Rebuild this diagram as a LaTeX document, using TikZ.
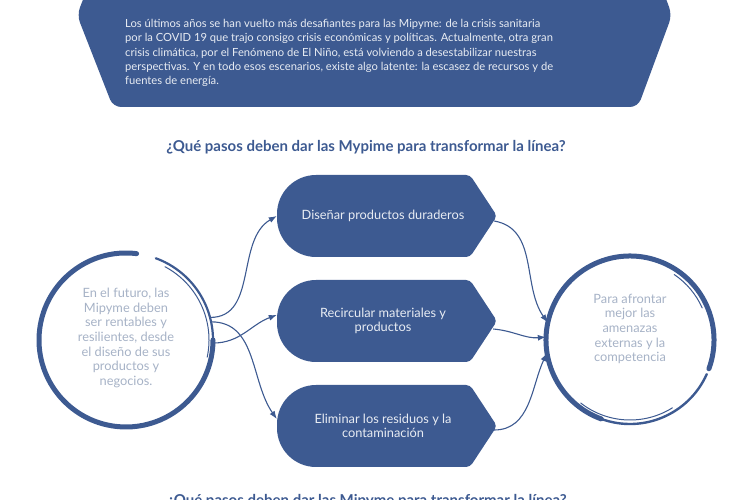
\documentclass[tikz,border=0pt]{standalone}
\usepackage{fontspec}
\setmainfont{Lato}
\usetikzlibrary{positioning,arrows.meta,calc}
\definecolor{mipazul}{RGB}{61,90,145}
\definecolor{mipclaro}{RGB}{232,236,243}
\definecolor{mipgris}{RGB}{166,178,198}

\tikzset{
  paso/.style={minimum width=220pt,minimum height=82pt,inner sep=0pt,
    text=mipclaro,align=center,font=\fontsize{12.8}{14.5}\selectfont,
    path picture={
      \fill[mipazul] (path picture bounding box.east)
        [rounded corners=4pt] -- ([xshift=-27pt]path picture bounding box.north east)
        [rounded corners=39pt] -- (path picture bounding box.north west)
        -- (path picture bounding box.south west)
        [rounded corners=4pt] -- ([xshift=-27pt]path picture bounding box.south east)
        -- cycle;}},
  circulo/.style={circle,inner sep=0pt},
  circtexto/.style={inner sep=0pt,align=center,text=mipgris,
    font=\fontsize{12.8}{14.7}\selectfont},
  titulo/.style={font=\fontsize{15}{17}\selectfont\bfseries,text=mipazul},
  flecha/.style={mipazul,line width=1.1pt,-{Latex[length=8pt,width=6pt]}},
  pincel/.style={mipazul,line width=5pt,line cap=round},
}

\begin{document}
\begin{tikzpicture}[x=1pt,y=1pt]
  \useasboundingbox (0,0) rectangle (750,500);
  \clip (0,0) rectangle (750,500);
  % banner
  \fill[mipazul,rounded corners=8pt] (113,393) -- (77,485) -- (113,577)
    -- (638,577) -- (672,485) -- (638,393) -- cycle;
  \node[anchor=north west,align=left,inner sep=0pt,text=mipclaro,
    font=\fontsize{11.2}{14.3}\selectfont] (contexto) at (125,481)
    {Los últimos años se han vuelto más desafiantes para las Mipyme: de la crisis sanitaria\\
     por la COVID 19 que trajo consigo crisis económicas y políticas. Actualmente, otra gran\\
     crisis climática, por el Fenómeno de El Niño, está volviendo a desestabilizar nuestras\\
     perspectivas. Y en todo esos escenarios, existe algo latente: la escasez de recursos y de\\
     fuentes de energía.};
  \node[titulo] (pregunta) at (366,353)
    {¿Qué pasos deben dar las Mypime para transformar la línea?};
  \node[titulo] (pregunta2) at (367,-1.5)
    {¿Qué pasos deben dar las Mipyme para transformar la línea?};
  % pasos
  \node[paso] (d1) at (387,284) {Diseñar productos duraderos\hspace*{8pt}};
  \node[paso] (d2) at (387,179) {Recircular materiales y\hspace*{8pt}\\productos\hspace*{8pt}};
  \node[paso] (d3) at (387,74) {Eliminar los residuos y la\hspace*{8pt}\\contaminación\hspace*{8pt}};
  % circulos
  \node[circulo,minimum size=174pt] (futuro) at (126,160) {};
  \node[circtexto] (futurotexto) at ([yshift=2pt]futuro.center)
    {En el futuro, las\\Mipyme deben\\ser rentables y\\resilientes, desde\\el diseño de sus\\productos y\\negocios.};
  \node[circulo,minimum size=168pt] (meta) at (630,160) {};
  \node[circtexto] (metatexto) at ([yshift=11pt]meta.center)
    {Para afrontar\\mejor las\\amenazas\\externas y la\\competencia};
  \draw[pincel] ([shift={(83:87pt)}]futuro.center) arc[start angle=83,end angle=360,radius=87pt];
  \draw[pincel,line width=2.2pt] ([shift={(0:87pt)}]futuro.center) arc[start angle=0,end angle=70,radius=87pt];
  \draw[pincel,line width=1pt] ([shift={(-12:83pt)}]futuro.center) arc[start angle=-12,end angle=62,radius=83pt];
  \draw[pincel] ([shift={(-20:84pt)}]meta.center) arc[start angle=-20,end angle=250,radius=84pt];
  \draw[pincel,line width=2.4pt] ([shift={(250:84pt)}]meta.center) arc[start angle=250,end angle=336,radius=84pt];
  \draw[pincel,line width=1pt] ([shift={(232:80pt)}]meta.center) arc[start angle=232,end angle=302,radius=80pt];
  \draw[pincel,line width=1pt] ([shift={(24:79pt)}]meta.center) arc[start angle=24,end angle=56,radius=79pt];
  % conectores
  \draw[flecha] (futuro.15) to[out=0,in=210] (d1.west);
  \draw[flecha] (futuro.-2) to[out=0,in=200] ([yshift=6pt]d2.west);
  \draw[flecha] (futuro.12) to[out=0,in=125] ([yshift=7pt]d3.west);
  \draw[flecha] ([shift={(-3pt,-5pt)}]d1.east) to[out=-10,in=125] (meta.168);
  \draw[flecha] ([shift={(-4pt,-8pt)}]d2.east) to[out=-5,in=185] (meta.178);
  \draw[flecha] ([shift={(-3pt,-4pt)}]d3.east) to[out=0,in=245] (meta.189);
\end{tikzpicture}
\end{document}
